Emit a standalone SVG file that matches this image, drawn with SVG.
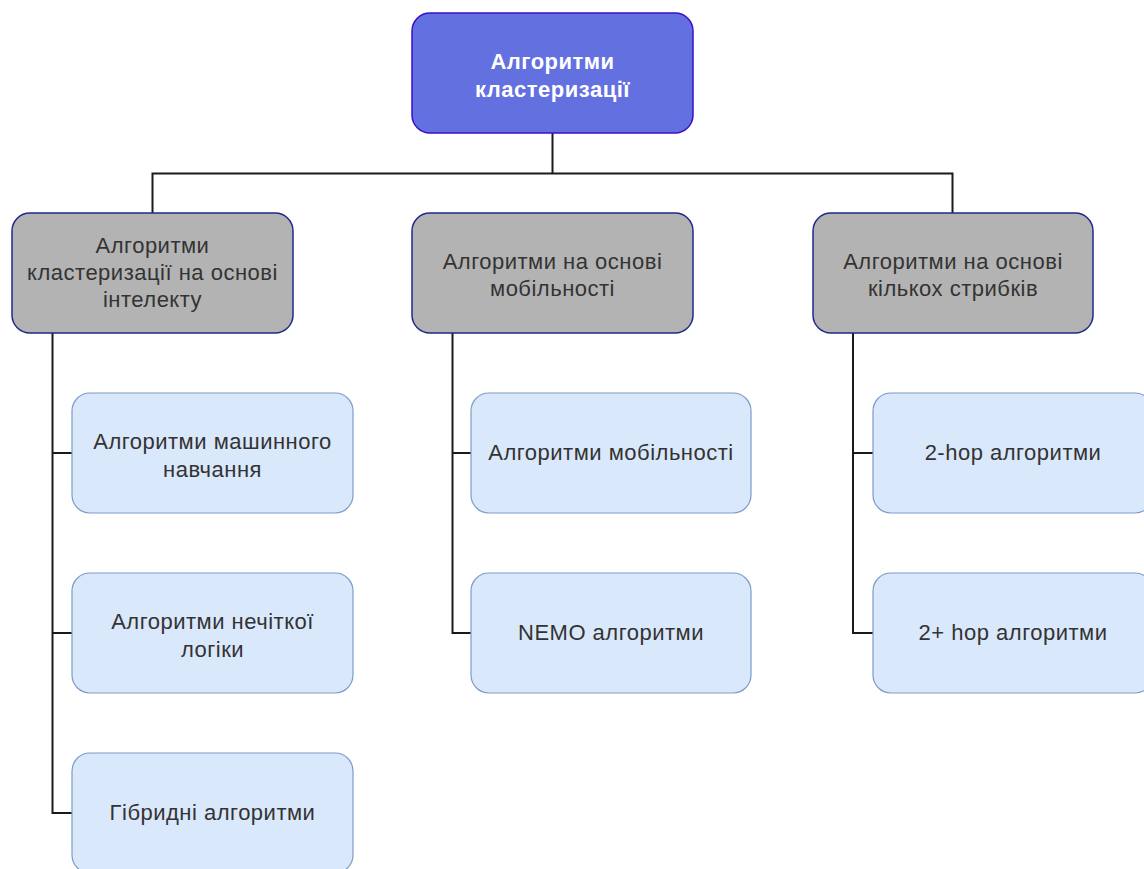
<svg xmlns="http://www.w3.org/2000/svg" width="1144" height="869" viewBox="0 0 1144 869">
  <style>
    .root rect { fill: #6370e0; stroke: #3a10c8; stroke-width: 1.5; }
    .cat rect { fill: #b3b3b3; stroke: #1f2a8a; stroke-width: 1.5; }
    .leaf rect { fill: #dae8fc; stroke: #7c9cc8; stroke-width: 1.2; }
    text { font-family: "Liberation Sans", Arial, sans-serif; font-size: 22px; letter-spacing: 0.5px; text-anchor: middle; fill: #333333; }
    .root text { fill: #ffffff; font-weight: bold; }
    #links path { fill: none; stroke: #1a1a1a; stroke-width: 2; }
  </style>

  <!-- tree connectors -->
  <g id="links">
    <path d="M552.5 133 V173.5 M152.5 213 V173.5 H952.5 V213"/>
    <path d="M52.5 333 V813 H72 M52.5 453 H72 M52.5 633 H72"/>
    <path d="M452.5 333 V633 H471 M452.5 453 H471"/>
    <path d="M853 333 V633 H873 M853 453 H873"/>
  </g>

  <!-- root -->
  <g id="root" class="root">
    <rect x="412" y="13" width="281" height="120" rx="18"/>
    <text x="552.5" y="69">Алгоритми</text>
    <text x="552.5" y="97">кластеризації</text>
  </g>

  <!-- categories -->
  <g id="cat-intellect" class="cat">
    <rect x="12" y="213" width="281" height="120" rx="18"/>
    <text x="152.5" y="253">Алгоритми</text>
    <text x="152.5" y="280">кластеризації на основі</text>
    <text x="152.5" y="307">інтелекту</text>
  </g>
  <g id="cat-mobility" class="cat">
    <rect x="412" y="213" width="281" height="120" rx="18"/>
    <text x="552.5" y="269">Алгоритми на основі</text>
    <text x="552.5" y="296">мобільності</text>
  </g>
  <g id="cat-multihop" class="cat">
    <rect x="813" y="213" width="280" height="120" rx="18"/>
    <text x="953" y="269">Алгоритми на основі</text>
    <text x="953" y="296">кількох стрибків</text>
  </g>

  <!-- leaves: intelligence-based -->
  <g id="leaf-ml" class="leaf">
    <rect x="72" y="393" width="281" height="120" rx="18"/>
    <text x="212.5" y="449">Алгоритми машинного</text>
    <text x="212.5" y="477">навчання</text>
  </g>
  <g id="leaf-fuzzy" class="leaf">
    <rect x="72" y="573" width="281" height="120" rx="18"/>
    <text x="212.5" y="629">Алгоритми нечіткої</text>
    <text x="212.5" y="657">логіки</text>
  </g>
  <g id="leaf-hybrid" class="leaf">
    <rect x="72" y="753" width="281" height="120" rx="18"/>
    <text x="212.5" y="820">Гібридні алгоритми</text>
  </g>

  <!-- leaves: mobility-based -->
  <g id="leaf-mobility" class="leaf">
    <rect x="471" y="393" width="280" height="120" rx="18"/>
    <text x="611" y="460">Алгоритми мобільності</text>
  </g>
  <g id="leaf-nemo" class="leaf">
    <rect x="471" y="573" width="280" height="120" rx="18"/>
    <text x="611" y="640">NEMO алгоритми</text>
  </g>

  <!-- leaves: multi-hop -->
  <g id="leaf-2hop" class="leaf">
    <rect x="873" y="393" width="280" height="120" rx="18"/>
    <text x="1013" y="460">2-hop алгоритми</text>
  </g>
  <g id="leaf-2plus" class="leaf">
    <rect x="873" y="573" width="280" height="120" rx="18"/>
    <text x="1013" y="640">2+ hop алгоритми</text>
  </g>
</svg>
